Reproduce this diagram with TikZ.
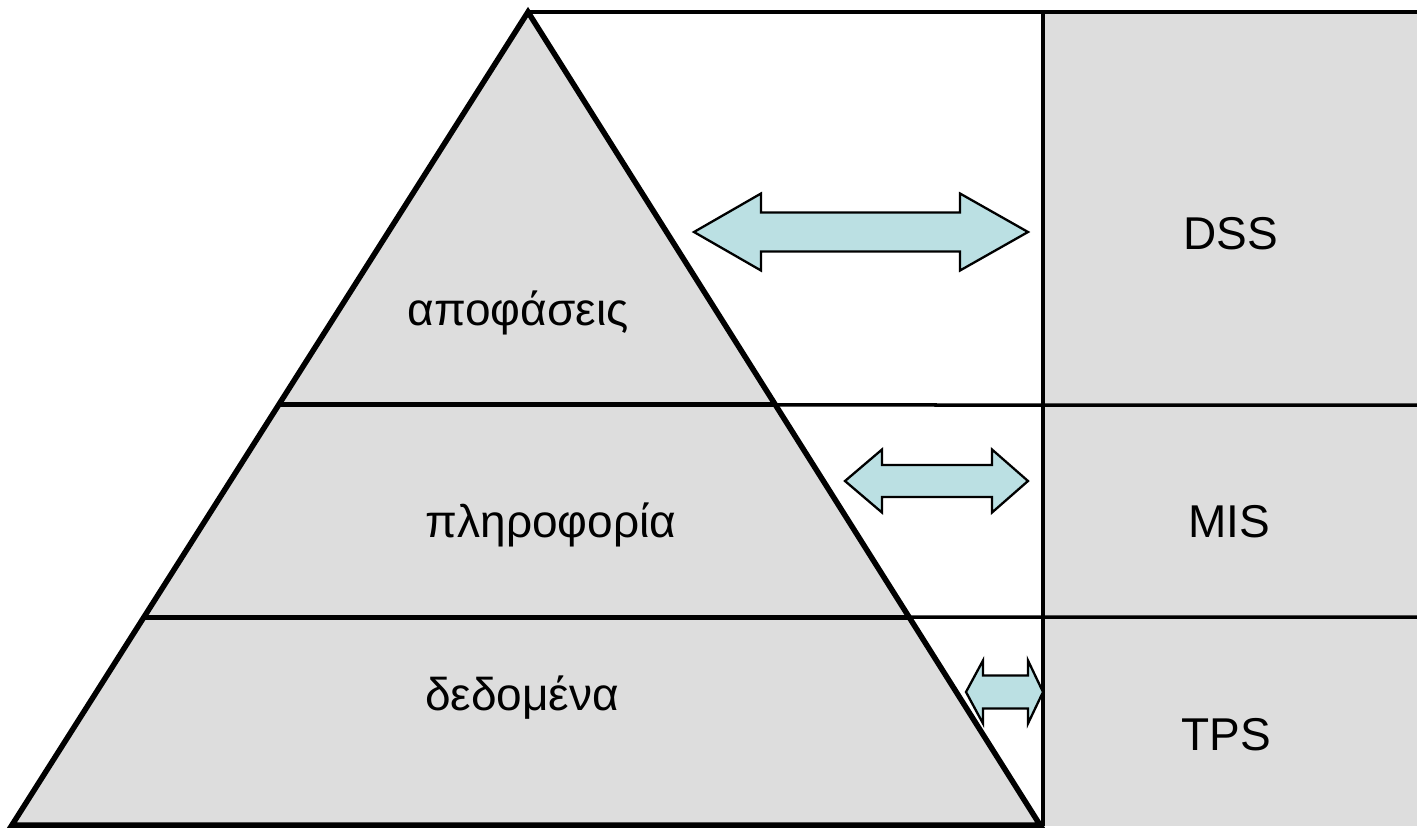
\documentclass[tikz,border=0pt]{standalone}
\usepackage{fontspec}
\setmainfont{Liberation Sans}
\usetikzlibrary{calc}
\definecolor{pgray}{HTML}{DDDDDD}
\definecolor{pcyan}{HTML}{BBE0E3}
\newcommand{\dblarrow}[7]{%
  \draw[arrowbox] (#1,#5) -- (#2,#5-#6) -- (#2,#5-#7) -- (#3,#5-#7) -- (#3,#5-#6)
    -- (#4,#5) -- (#3,#5+#6) -- (#3,#5+#7) -- (#2,#5+#7) -- (#2,#5+#6) -- cycle;}
\begin{document}
\begin{tikzpicture}[x=1pt,y=-1pt,
  arrowbox/.style={fill=pcyan,draw=black,line width=2.3pt,line join=miter},
  edgeline/.style={line width=5.5pt},
  thickline/.style={line width=5pt},
  thinline/.style={line width=3.5pt},
  lbl/.style={anchor=base,inner sep=0pt,font=\fontsize{46}{55}\selectfont}]
\useasboundingbox (0,0) rectangle (1417,828);
% right column
\fill[pgray] (1043,12) rectangle (1417,826);
\coordinate (apex) at (528,12);
\coordinate (bl) at (12,825);
\coordinate (br) at (1040,825);
% triangle
\fill[pgray] (apex) -- (bl) -- (br) -- cycle;
% thin separators
\draw[thinline] (apex) -- (1417,12);
\draw[thinline] (1043,12) -- (1043,826);
\coordinate (r1) at ($(apex)!{(405-12)/813}!(br)$);
\coordinate (l1) at ($(apex)!{(405-12)/813}!(bl)$);
\coordinate (r2) at ($(apex)!{(617-12)/813}!(br)$);
\coordinate (l2) at ($(apex)!{(617-12)/813}!(bl)$);
\draw[thinline] (r1) -- (1417,405);
\draw[thinline] (r2) -- (1417,617);
\draw[thickline] (l1) -- (r1);
\draw[thickline] (l2) -- (r2);
\draw[edgeline,line join=miter] (apex) -- (bl) -- (br) -- cycle;
% arrows
\dblarrow{694}{761}{960}{1028}{232}{38.5}{19.5}
\dblarrow{845}{882}{992}{1028}{481}{31.5}{16}
\dblarrow{966}{983}{1028}{1043}{692}{31.5}{16.5}
% labels
\node[lbl] (apof) at (518,325) {αποφάσεις};
\node[lbl] (plir) at (551,537) {πληροφορία};
\node[lbl] (dedo) at (522,710) {δεδομένα};
\node[lbl] (dss) at (1231,249) {DSS};
\node[lbl] (mis) at (1229,537) {MIS};
\node[lbl] (tps) at (1226,750) {TPS};
\end{tikzpicture}
\end{document}
